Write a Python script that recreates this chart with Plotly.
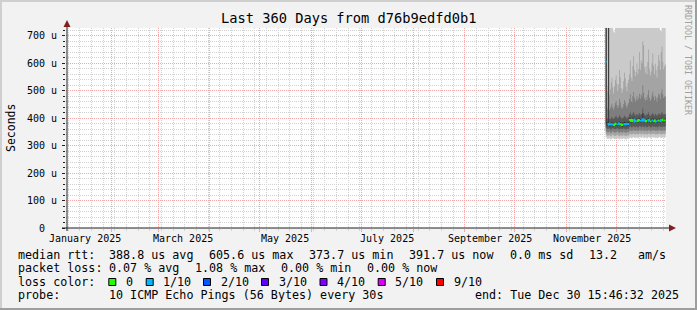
import plotly.graph_objects as go
import pandas as pd

# ---------------- data ----------------
range_start = "2025-01-04 15:46:32"
range_end = "2025-12-30 15:46:32"
data_start = "2025-11-24 12:00"
step_h = 12

median = [605.6, None, 377, 379, 376, 375, 377, 378, 376, 373.7, 377, 379,
          380, 377, 376, 378, 381, 379, 377, 375, 376, 378, 380, 379,
          377, 376, 378, 379, 392, 394, 390, 389, 393, 395, 391, 388,
          390, 392, 389, 391, 393, 390, 392, 391, 396, 393, 390, 388,
          391, 389, 392, 394, 390, 387, 389, 391, 393, 390, 388, 392,
          389, 387, 390, 392, 391, 389, 393, 395, 392, 390, 391, 391.7]

loss = [1, 1, 1, 1, 1, 1, 1, 1, 1, 0, 0, 0,
        0, 1, 1, 1, 1, 0, 0, 0, 0, 1, 1, 1,
        1, 1, 1, 1, 0, 0, 0, 0, 0, 1, 1, 1,
        1, 0, 0, 0, 0, 1, 1, 1, 1, 1, 1, 0,
        0, 0, 1, 1, 1, 0, 0, 1, 1, 0, 0, 0,
        1, 1, 0, 0, 1, 1, 1, 0, 0, 1, 0, 0]

ping1 = [330, 326, 324, 325, 327, 323, 322, 326, 328, 325, 324, 323,
         326, 325, 327, 324, 322, 325, 326, 323, 324, 327, 325, 323,
         322, 326, 325, 324, 328, 330, 327, 326, 329, 331, 328, 327,
         330, 329, 326, 328, 331, 330, 327, 329, 332, 328, 327, 330,
         329, 326, 328, 331, 330, 327, 326, 329, 331, 328, 330, 327,
         329, 328, 326, 330, 331, 329, 327, 328, 330, 329, 328, 330]
ping2 = [340, 338, 336, 337, 339, 335, 334, 338, 340, 337, 336, 335,
         338, 337, 339, 336, 334, 337, 338, 335, 336, 339, 337, 335,
         334, 338, 337, 336, 341, 343, 340, 339, 342, 344, 341, 340,
         343, 342, 339, 341, 344, 343, 340, 342, 345, 341, 340, 343,
         342, 339, 341, 344, 343, 340, 339, 342, 344, 341, 343, 340,
         342, 341, 339, 343, 344, 342, 340, 341, 343, 342, 341, 343]
ping3 = [352, 350, 348, 349, 351, 347, 346, 350, 352, 349, 348, 347,
         350, 349, 351, 348, 346, 349, 350, 347, 348, 351, 349, 347,
         346, 350, 349, 348, 354, 356, 353, 352, 355, 357, 354, 353,
         356, 355, 352, 354, 357, 356, 353, 355, 358, 354, 353, 356,
         355, 352, 354, 357, 356, 353, 352, 355, 357, 354, 356, 353,
         355, 354, 352, 356, 357, 355, 353, 354, 356, 355, 354, 356]
ping4 = [365, 362, 360, 361, 363, 359, 358, 362, 364, 361, 360, 359,
         362, 361, 363, 360, 358, 361, 362, 359, 360, 363, 361, 359,
         358, 362, 361, 360, 368, 370, 367, 366, 369, 371, 368, 367,
         370, 369, 366, 368, 371, 370, 367, 369, 372, 368, 367, 370,
         369, 366, 368, 371, 370, 367, 366, 369, 371, 368, 370, 367,
         369, 368, 366, 370, 371, 369, 367, 368, 370, 369, 368, 370]
ping5 = [380, 372, 371, 373, 370, 369, 371, 372, 370, 368, 371, 373,
         374, 371, 370, 372, 375, 373, 371, 369, 370, 372, 374, 373,
         371, 370, 372, 373, 386, 388, 384, 383, 387, 389, 385, 382,
         384, 386, 383, 385, 387, 384, 386, 385, 390, 387, 384, 382,
         385, 383, 386, 388, 384, 381, 383, 385, 387, 384, 382, 386,
         383, 381, 384, 386, 385, 383, 387, 389, 386, 384, 385, 386]
ping6 = [800, 385, 384, 800, 383, 382, 384, 385, 383, 381, 384, 386,
         387, 384, 383, 385, 388, 386, 384, 382, 383, 385, 387, 386,
         384, 383, 385, 386, 399, 401, 397, 396, 400, 402, 398, 395,
         397, 399, 396, 398, 400, 397, 399, 398, 418, 400, 397, 395,
         398, 396, 399, 401, 397, 394, 396, 398, 400, 397, 395, 399,
         396, 394, 397, 399, 398, 396, 400, 402, 399, 397, 398, 399]
ping7 = [800, 400, 398, 800, 397, 396, 401, 404, 399, 397, 400, 405,
         408, 402, 399, 403, 410, 406, 401, 398, 400, 404, 409, 406,
         401, 399, 403, 405, 415, 420, 412, 410, 418, 422, 414, 409,
         412, 416, 410, 413, 419, 411, 415, 414, 435, 418, 412, 409,
         414, 410, 416, 421, 412, 408, 411, 415, 419, 413, 409, 416,
         411, 408, 413, 417, 415, 411, 418, 422, 416, 412, 414, 415]
ping8 = [800, 440, 432, 800, 428, 436, 445, 452, 438, 430, 442, 455,
         462, 448, 437, 446, 470, 458, 441, 433, 439, 451, 466, 457,
         444, 436, 449, 455, 470, 488, 462, 458, 480, 495, 472, 460,
         468, 482, 465, 474, 490, 470, 486, 479, 520, 492, 471, 463,
         476, 466, 485, 502, 474, 462, 470, 483, 497, 478, 465, 481,
         471, 460, 476, 490, 484, 470, 492, 505, 486, 473, 478, 480]
ping9 = [800, 520, 498, 800, 485, 505, 530, 548, 512, 490, 515, 540,
         556, 525, 500, 522, 575, 548, 510, 492, 505, 535, 566, 545,
         515, 498, 528, 540, 560, 610, 548, 535, 590, 625, 575, 552,
         568, 600, 560, 580, 640, 575, 610, 600, 680, 665, 585, 565,
         590, 560, 605, 650, 580, 555, 570, 600, 635, 590, 560, 598,
         575, 548, 590, 630, 610, 575, 640, 660, 605, 578, 588, 595]
ping10 = [800, 800, 800, 800, 800, 800, 800, 800, 800, 715, 712, 800,
          800, 800, 800, 800, 800, 800, 800, 800, 800, 800, 800, 800,
          800, 800, 800, 800, 800, 800, 800, 800, 800, 800, 800, 800,
          800, 800, 800, 800, 800, 800, 800, 800, 800, 800, 800, 800,
          800, 800, 800, 800, 800, 800, 800, 800, 800, 800, 800, 800,
          800, 800, 800, 800, 800, 718, 716, 800, 800, 800, 800, 800]

loss_labels = ["0", "1/10", "2/10", "3/10", "4/10", "5/10", "9/10"]
loss_colors = ["#26ff00", "#00b8ff", "#0059ff", "#5e00ff", "#7e00ff", "#dd00ff", "#ff0000"]

month_starts = ["2025-02-01", "2025-03-01", "2025-04-01", "2025-05-01", "2025-06-01",
                "2025-07-01", "2025-08-01", "2025-09-01", "2025-10-01", "2025-11-01",
                "2025-12-01"]
label_dates = ["2025-01-16", "2025-03-16", "2025-05-16", "2025-07-16", "2025-09-16", "2025-11-16"]
label_texts = ["January 2025", "March 2025", "May 2025", "July 2025", "September 2025", "November 2025"]

y_ticks = [0, 100, 200, 300, 400, 500, 600, 700]
y_ticktext = ["0\u00a0\u00a0", "100 u", "200 u", "300 u", "400 u", "500 u", "600 u", "700 u"]
y_max = 728

title = "Last 360 Days from d76b9edfd0b1"
row1 = [("median rtt:", 16), ("388.8 us avg", 107.3), ("605.6 us max", 207), ("373.7 us min", 306.5),
        ("391.7 us now", 407.3), ("0.0 ms sd", 507.7), ("13.2", 586.7), ("am/s", 635.7)]
row2 = [("packet loss:", 16), ("0.07 % avg", 107.3), ("1.08 % max", 193.3), ("0.00 % min", 279.3),
        ("0.00 % now", 365.3)]
row3_label = "loss color:"
row3_box_x = [108.3, 145.7, 203, 261, 319.5, 377.7, 436]
row4 = [("probe:", 16), ("10 ICMP Echo Pings (56 Bytes) every 30s", 107.3)]
end_text = "end: Tue Dec 30 15:46:32 2025"

# ---------------- layout geometry ----------------
W, H = 697, 310
PL, PR, PT, PB = 66, 666, 28, 228
FONT = "DejaVu Sans Mono"


def px(x):
    return (x - PL) / (PR - PL)


def py(y):
    return (PB - y) / (PB - PT)


n = len(median)
times = list(pd.date_range(data_start, periods=n, freq=f"{step_h}h"))
edges = times + [times[-1] + pd.Timedelta(hours=step_h)]
step_vals = lambda arr: list(arr) + [arr[-1]]

fig = go.Figure()

pings = [ping1, ping2, ping3, ping4, ping5, ping6, ping7, ping8, ping9, ping10]
half = 5
for ibot in range(1, half + 1):
    lo = pings[ibot - 1]
    hi = pings[10 - ibot]
    c = int(190 / half * (half - ibot)) + 50
    col = "#%02x%02x%02x" % (c, c, c)
    fig.add_trace(go.Scatter(x=edges, y=step_vals(lo), mode="lines", line=dict(width=0, shape="hv"),
                             hoverinfo="skip", showlegend=False))
    fig.add_trace(go.Scatter(x=edges, y=step_vals(hi), mode="lines", line=dict(width=0, shape="hv"),
                             fill="tonexty", fillcolor=col, hoverinfo="skip", showlegend=False))

# median line coloured by loss
for lvl, col in enumerate(loss_colors):
    xs, ys = [], []
    prev = None
    for i in range(n):
        if median[i] is None or loss[i] != lvl:
            continue
        if xs and prev != i - 1:
            xs.append(None)
            ys.append(None)
        xs += [edges[i], edges[i + 1]]
        ys += [median[i], median[i]]
        prev = i
    if xs:
        fig.add_trace(go.Scatter(x=xs, y=ys, mode="lines", line=dict(color=col, width=2),
                                 hoverinfo="skip", showlegend=False))

GRID = "#d2d2d2"
MGRID = "#f2a8a8"
fig.update_xaxes(type="date", range=[range_start, range_end], tickvals=month_starts,
                 ticktext=[""] * len(month_starts), showgrid=True, gridcolor=MGRID,
                 griddash="1px,1px", gridwidth=1, ticks="outside", ticklen=3, tickcolor=MGRID,
                 showline=False, zeroline=False,
                 minor=dict(dtick=7 * 86400000, tick0="2025-01-06", showgrid=True,
                            gridcolor=GRID, griddash="1px,1px", ticks="outside", ticklen=2,
                            tickcolor=GRID))
fig.update_yaxes(range=[0, y_max], tickvals=y_ticks, ticktext=y_ticktext, showgrid=True,
                 gridcolor=MGRID, griddash="1px,1px", ticks="outside", ticklen=3,
                 tickcolor="#1f1f1f", showline=False, zeroline=False,
                 tickfont=dict(family=FONT, size=10, color="#000"), ticklabelstandoff=3,
                 minor=dict(dtick=20, showgrid=True, gridcolor=GRID, griddash="1px,1px",
                            ticks="outside", ticklen=2, tickcolor="#1f1f1f"))

shapes = []
# bevel border
shapes.append(dict(type="rect", xref="paper", yref="paper", x0=px(0), x1=px(2), y0=py(H), y1=py(0),
                   fillcolor="#cfcfcf", line_width=0, layer="below"))
shapes.append(dict(type="rect", xref="paper", yref="paper", x0=px(0), x1=px(W), y0=py(2), y1=py(0),
                   fillcolor="#cfcfcf", line_width=0, layer="below"))
shapes.append(dict(type="rect", xref="paper", yref="paper", x0=px(W - 2), x1=px(W), y0=py(H), y1=py(0),
                   fillcolor="#9e9e9e", line_width=0, layer="below"))
shapes.append(dict(type="rect", xref="paper", yref="paper", x0=px(0), x1=px(W), y0=py(H), y1=py(H - 2),
                   fillcolor="#9e9e9e", line_width=0, layer="below"))
# axes lines
shapes.append(dict(type="line", xref="paper", yref="paper", x0=px(PL + 1), x1=px(PL + 1), y0=py(231),
                   y1=py(24), line=dict(color="#1f1f1f", width=1)))
shapes.append(dict(type="line", xref="paper", yref="paper", x0=px(62), x1=px(670), y0=py(PB), y1=py(PB),
                   line=dict(color="#1f1f1f", width=1)))
# arrows
shapes.append(dict(type="path", xref="paper", yref="paper",
                   path="M %f %f L %f %f L %f %f Z" % (px(PL + 1 - 3.5), py(27), px(PL + 1), py(20),
                                                      px(PL + 1 + 3.5), py(27)),
                   fillcolor="#801f1f", line_width=0))
shapes.append(dict(type="path", xref="paper", yref="paper",
                   path="M %f %f L %f %f L %f %f Z" % (px(669), py(PB - 3.5), px(676), py(PB),
                                                      px(669), py(PB + 3.5)),
                   fillcolor="#801f1f", line_width=0))

ann = []
ann.append(dict(text=title, xref="paper", yref="paper", x=px(348.5), y=py(18.5), showarrow=False,
                xanchor="center", yanchor="middle", font=dict(family=FONT, size=13.7, color="#000")))
ann.append(dict(text="Seconds", xref="paper", yref="paper", x=px(11), y=py(128), showarrow=False,
                textangle=-90, xanchor="center", yanchor="middle",
                font=dict(family=FONT, size=11.5, color="#000")))
ann.append(dict(text="RRDTOOL / TOBI OETIKER", xref="paper", yref="paper", x=px(688), y=py(60),
                showarrow=False, textangle=90, xanchor="center", yanchor="middle",
                font=dict(family=FONT, size=8.3, color="#a0a0a0")))
for d, t in zip(label_dates, label_texts):
    ann.append(dict(text=t, xref="x", yref="paper", x=d, y=py(238.5), showarrow=False,
                    xanchor="center", yanchor="middle", font=dict(family=FONT, size=10, color="#000")))

LF = dict(family=FONT, size=11.7, color="#000")
rows_y = [254.5, 268, 281.5, 295]
for t, x in row1:
    ann.append(dict(text=t, xref="paper", yref="paper", x=px(x), y=py(rows_y[0]), showarrow=False,
                    xanchor="left", yanchor="middle", font=LF))
for t, x in row2:
    ann.append(dict(text=t, xref="paper", yref="paper", x=px(x), y=py(rows_y[1]), showarrow=False,
                    xanchor="left", yanchor="middle", font=LF))
ann.append(dict(text=row3_label, xref="paper", yref="paper", x=px(16), y=py(rows_y[2]), showarrow=False,
                xanchor="left", yanchor="middle", font=LF))
for bx, lab, col in zip(row3_box_x, loss_labels, loss_colors):
    shapes.append(dict(type="rect", xref="paper", yref="paper", x0=px(bx + 0.5), x1=px(bx + 7.5),
                       y0=py(285.5), y1=py(278.5), fillcolor=col, line=dict(color="#000", width=1)))
    ann.append(dict(text=lab, xref="paper", yref="paper", x=px(bx + 15.7), y=py(rows_y[2]),
                    showarrow=False, xanchor="left", yanchor="middle", font=LF))
for t, x in row4:
    ann.append(dict(text=t, xref="paper", yref="paper", x=px(x), y=py(rows_y[3]), showarrow=False,
                    xanchor="left", yanchor="middle", font=LF))
ann.append(dict(text=end_text, xref="paper", yref="paper", x=px(680.5), y=py(rows_y[3]), showarrow=False,
                xanchor="right", yanchor="middle", font=LF))

fig.update_layout(width=W, height=H, margin=dict(l=PL, r=W - PR, t=PT, b=H - PB, pad=0),
                  paper_bgcolor="#f2f2f2", plot_bgcolor="#ffffff", shapes=shapes, annotations=ann,
                  showlegend=False, font=dict(family=FONT))

fig.write_html("out.html")
